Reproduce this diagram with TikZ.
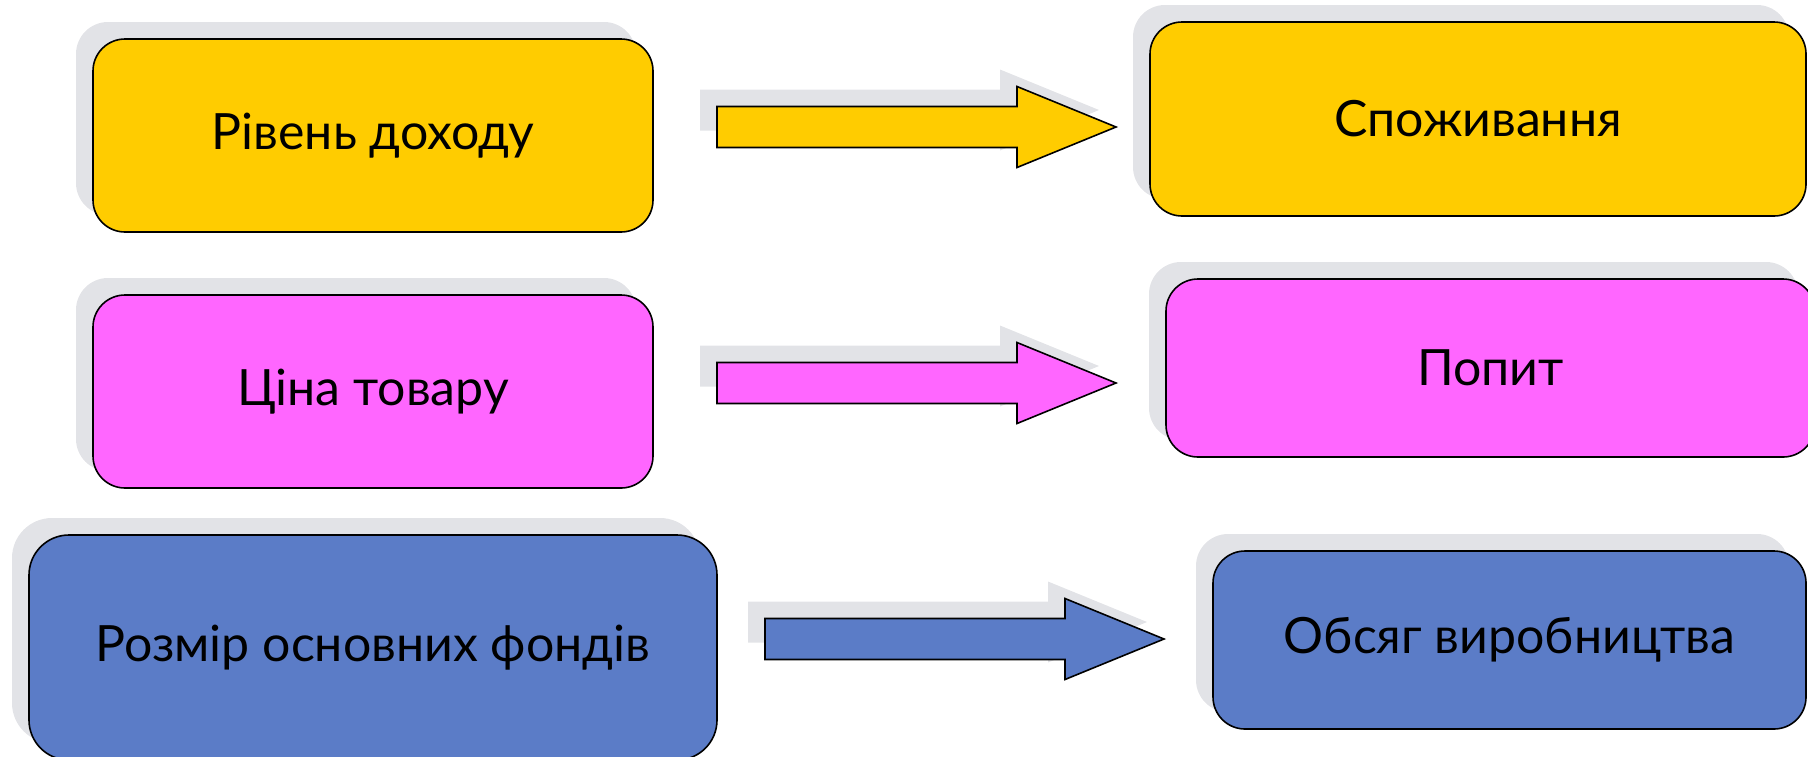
\documentclass[tikz,border=0pt]{standalone}
\usepackage{fontspec}
\setmainfont{Lato}
\usetikzlibrary{shadows}
\definecolor{shade}{HTML}{E2E3E7}
\definecolor{ylw}{HTML}{FFCC00}
\definecolor{pnk}{HTML}{FF66FF}
\definecolor{blu}{HTML}{5B7CC7}
\tikzset{
  box/.style={draw=black, line width=0.8pt, rounded corners=16pt, rectangle, inner sep=0pt,
    font=\fontsize{25}{30}\selectfont,
    drop shadow={shadow xshift=-8.5pt, shadow yshift=8.5pt, fill=shade, opacity=1}},
  blockarrow/.style={draw=black, line width=0.8pt},
  arrowshade/.style={fill=shade}
}
\begin{document}
\begin{tikzpicture}[x=0.5pt,y=-0.5pt]
\useasboundingbox (0,0) rectangle (1808,756);
\clip (0,0) rectangle (1808,756);
% boxes
\node[box, fill=ylw, minimum width=280pt, minimum height=96.5pt] (inc) at (373,135.5) {Рівень доходу};
\node[box, fill=ylw, minimum width=328pt, minimum height=97pt] (cons) at (1478,119) {Споживання};
\node[box, fill=pnk, minimum width=280pt, minimum height=96.5pt] (price) at (373,391.5) {Ціна товару};
\node[box, fill=pnk, minimum width=324.5pt, minimum height=89pt] (dem) at (1490.5,368) {Попит};
\node[box, fill=blu, rounded corners=20pt, minimum width=344pt, minimum height=112.5pt] (fund) at (373,647.5) {Розмір основних фондів};
\node[box, fill=blu, minimum width=296.5pt, minimum height=89pt] (prod) at (1509.5,640) {Обсяг виробництва};
% block arrows
\coordinate (a1) at (717,127);
\coordinate (a2) at (717,383);
\coordinate (a3) at (765,639);
\foreach \c/\col in {a1/ylw, a2/pnk, a3/blu}{
  \begin{scope}[shift={(\c)}]
    \fill[arrowshade] (-17,-37.5) -- (283,-37.5) -- (283,-57.5) -- (382,-17) -- (283,23.5) -- (283,3.5) -- (-17,3.5) -- cycle;
    \draw[blockarrow, fill=\col] (0,-20.5) -- (300,-20.5) -- (300,-40.5) -- (399,0) -- (300,40.5) -- (300,20.5) -- (0,20.5) -- cycle;
  \end{scope}
}
\end{tikzpicture}
\end{document}
